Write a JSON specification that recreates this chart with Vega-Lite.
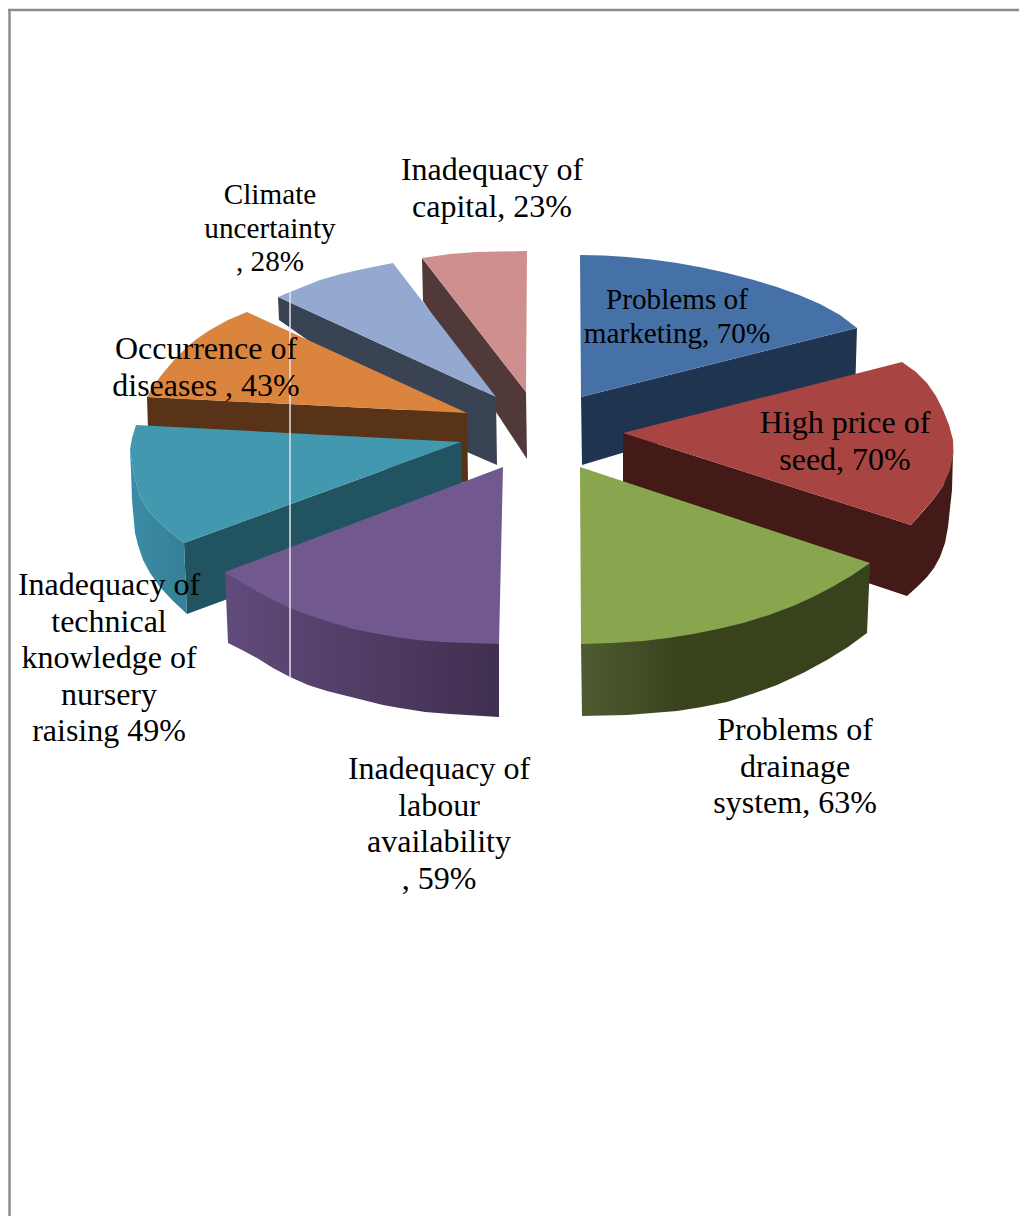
{
  "$schema": "https://vega.github.io/schema/vega-lite/v6.json",
  "autosize": {"type": "none"},
  "width": 1019,
  "height": 1216,
  "padding": 0,
  "background": "white",
  "config": {"view": {"stroke": null}},
  "resolve": {"scale": {"fill": "independent"}},
  "datasets": {
    "outlines": [
      {"part":"capital-wall","seq":1,"x":422,"y":258},{"part":"capital-wall","seq":2,"x":526,"y":392},{"part":"capital-wall","seq":3,"x":527,"y":459},{"part":"capital-wall","seq":4,"x":423,"y":301},
      {"part":"capital-top","seq":1,"x":422,"y":258},{"part":"capital-top","seq":2,"x":450,"y":254},{"part":"capital-top","seq":3,"x":477,"y":252},{"part":"capital-top","seq":4,"x":527,"y":251},{"part":"capital-top","seq":5,"x":526,"y":392},

      {"part":"climate-wall","seq":1,"x":278,"y":297},{"part":"climate-wall","seq":2,"x":496,"y":397},{"part":"climate-wall","seq":3,"x":497,"y":465},{"part":"climate-wall","seq":4,"x":467,"y":452},{"part":"climate-wall","seq":5,"x":279,"y":320},
      {"part":"climate-top","seq":1,"x":278,"y":297},{"part":"climate-top","seq":2,"x":290,"y":292},{"part":"climate-top","seq":3,"x":305,"y":286},{"part":"climate-top","seq":4,"x":320,"y":280},{"part":"climate-top","seq":5,"x":341,"y":274},{"part":"climate-top","seq":6,"x":363,"y":269},{"part":"climate-top","seq":7,"x":393,"y":263},{"part":"climate-top","seq":8,"x":496,"y":397},

      {"part":"diseases-wall","seq":1,"x":147,"y":397},{"part":"diseases-wall","seq":2,"x":467,"y":413},{"part":"diseases-wall","seq":3,"x":468,"y":482},{"part":"diseases-wall","seq":4,"x":461,"y":482},{"part":"diseases-wall","seq":5,"x":148,"y":430},
      {"part":"diseases-top","seq":1,"x":147,"y":397},{"part":"diseases-top","seq":2,"x":154,"y":385},{"part":"diseases-top","seq":3,"x":163,"y":373},{"part":"diseases-top","seq":4,"x":175,"y":359},{"part":"diseases-top","seq":5,"x":187,"y":347},{"part":"diseases-top","seq":6,"x":198,"y":338},{"part":"diseases-top","seq":7,"x":210,"y":330},{"part":"diseases-top","seq":8,"x":228,"y":320},{"part":"diseases-top","seq":9,"x":247,"y":312},{"part":"diseases-top","seq":10,"x":467,"y":413},

      {"part":"technical-wall","seq":1,"x":461,"y":442},{"part":"technical-wall","seq":2,"x":184,"y":543},{"part":"technical-wall","seq":3,"x":187,"y":614},{"part":"technical-wall","seq":4,"x":225,"y":600},{"part":"technical-wall","seq":5,"x":462,"y":500},
      {"part":"technical-rim","seq":1,"x":130,"y":450},{"part":"technical-rim","seq":2,"x":134,"y":475},{"part":"technical-rim","seq":3,"x":140,"y":497},{"part":"technical-rim","seq":4,"x":148,"y":510},{"part":"technical-rim","seq":5,"x":157,"y":520},{"part":"technical-rim","seq":6,"x":170,"y":532},{"part":"technical-rim","seq":7,"x":184,"y":543},{"part":"technical-rim","seq":8,"x":187,"y":614},{"part":"technical-rim","seq":9,"x":172,"y":600},{"part":"technical-rim","seq":10,"x":160,"y":587},{"part":"technical-rim","seq":11,"x":150,"y":573},{"part":"technical-rim","seq":12,"x":143,"y":560},{"part":"technical-rim","seq":13,"x":138,"y":545},{"part":"technical-rim","seq":14,"x":135,"y":533},{"part":"technical-rim","seq":15,"x":132,"y":500},{"part":"technical-rim","seq":16,"x":131,"y":470},
      {"part":"technical-top","seq":1,"x":136,"y":425},{"part":"technical-top","seq":2,"x":461,"y":442},{"part":"technical-top","seq":3,"x":184,"y":543},{"part":"technical-top","seq":4,"x":170,"y":532},{"part":"technical-top","seq":5,"x":157,"y":520},{"part":"technical-top","seq":6,"x":148,"y":510},{"part":"technical-top","seq":7,"x":140,"y":497},{"part":"technical-top","seq":8,"x":134,"y":475},{"part":"technical-top","seq":9,"x":130,"y":450},{"part":"technical-top","seq":10,"x":132,"y":438},

      {"part":"labour-wall","seq":1,"x":225,"y":572},{"part":"labour-wall","seq":2,"x":228,"y":643},{"part":"labour-wall","seq":3,"x":242,"y":650},{"part":"labour-wall","seq":4,"x":257,"y":658},{"part":"labour-wall","seq":5,"x":273,"y":668},{"part":"labour-wall","seq":6,"x":290,"y":677},{"part":"labour-wall","seq":7,"x":308,"y":685},{"part":"labour-wall","seq":8,"x":327,"y":691},{"part":"labour-wall","seq":9,"x":347,"y":696},{"part":"labour-wall","seq":10,"x":367,"y":701},{"part":"labour-wall","seq":11,"x":383,"y":705},{"part":"labour-wall","seq":12,"x":400,"y":708},{"part":"labour-wall","seq":13,"x":425,"y":712},{"part":"labour-wall","seq":14,"x":450,"y":714},{"part":"labour-wall","seq":15,"x":499,"y":717},{"part":"labour-wall","seq":16,"x":499,"y":644},
      {"part":"labour-top","seq":1,"x":503,"y":467},{"part":"labour-top","seq":2,"x":225,"y":572},{"part":"labour-top","seq":3,"x":242,"y":583},{"part":"labour-top","seq":4,"x":260,"y":593},{"part":"labour-top","seq":5,"x":275,"y":601},{"part":"labour-top","seq":6,"x":290,"y":608},{"part":"labour-top","seq":7,"x":311,"y":616},{"part":"labour-top","seq":8,"x":333,"y":623},{"part":"labour-top","seq":9,"x":353,"y":629},{"part":"labour-top","seq":10,"x":373,"y":633},{"part":"labour-top","seq":11,"x":395,"y":637},{"part":"labour-top","seq":12,"x":417,"y":640},{"part":"labour-top","seq":13,"x":442,"y":642},{"part":"labour-top","seq":14,"x":467,"y":643},{"part":"labour-top","seq":15,"x":499,"y":644},

      {"part":"marketing-wall","seq":1,"x":581,"y":397},{"part":"marketing-wall","seq":2,"x":857,"y":328},{"part":"marketing-wall","seq":3,"x":855,"y":395},{"part":"marketing-wall","seq":4,"x":622,"y":453},{"part":"marketing-wall","seq":5,"x":582,"y":465},
      {"part":"marketing-top","seq":1,"x":580,"y":255},{"part":"marketing-top","seq":2,"x":604,"y":255.5},{"part":"marketing-top","seq":3,"x":627,"y":257},{"part":"marketing-top","seq":4,"x":652,"y":259.5},{"part":"marketing-top","seq":5,"x":677,"y":263},{"part":"marketing-top","seq":6,"x":702,"y":267.5},{"part":"marketing-top","seq":7,"x":727,"y":273},{"part":"marketing-top","seq":8,"x":752,"y":279.5},{"part":"marketing-top","seq":9,"x":777,"y":287},{"part":"marketing-top","seq":10,"x":799,"y":295},{"part":"marketing-top","seq":11,"x":820,"y":304},{"part":"marketing-top","seq":12,"x":840,"y":315},{"part":"marketing-top","seq":13,"x":857,"y":328},{"part":"marketing-top","seq":14,"x":581,"y":397},

      {"part":"seed-wall","seq":1,"x":623,"y":433},{"part":"seed-wall","seq":2,"x":911,"y":525},{"part":"seed-wall","seq":3,"x":933,"y":500},{"part":"seed-wall","seq":4,"x":943,"y":486},{"part":"seed-wall","seq":5,"x":953,"y":453},{"part":"seed-wall","seq":6,"x":952,"y":490},{"part":"seed-wall","seq":7,"x":948,"y":527},{"part":"seed-wall","seq":8,"x":945,"y":543},{"part":"seed-wall","seq":9,"x":940,"y":557},{"part":"seed-wall","seq":10,"x":934,"y":568},{"part":"seed-wall","seq":11,"x":927,"y":577},{"part":"seed-wall","seq":12,"x":917,"y":587},{"part":"seed-wall","seq":13,"x":907,"y":596},{"part":"seed-wall","seq":14,"x":868,"y":583},{"part":"seed-wall","seq":15,"x":623,"y":495},
      {"part":"seed-top","seq":1,"x":623,"y":433},{"part":"seed-top","seq":2,"x":902,"y":362},{"part":"seed-top","seq":3,"x":916,"y":372},{"part":"seed-top","seq":4,"x":927,"y":383},{"part":"seed-top","seq":5,"x":936,"y":396},{"part":"seed-top","seq":6,"x":943,"y":410},{"part":"seed-top","seq":7,"x":949,"y":425},{"part":"seed-top","seq":8,"x":953,"y":440},{"part":"seed-top","seq":9,"x":953.5,"y":453},{"part":"seed-top","seq":10,"x":950,"y":470},{"part":"seed-top","seq":11,"x":943,"y":486},{"part":"seed-top","seq":12,"x":933,"y":500},{"part":"seed-top","seq":13,"x":922,"y":512},{"part":"seed-top","seq":14,"x":911,"y":525},

      {"part":"drainage-wall","seq":1,"x":870,"y":563},{"part":"drainage-wall","seq":2,"x":867,"y":633},{"part":"drainage-wall","seq":3,"x":848,"y":647},{"part":"drainage-wall","seq":4,"x":827,"y":660},{"part":"drainage-wall","seq":5,"x":803,"y":673},{"part":"drainage-wall","seq":6,"x":777,"y":685},{"part":"drainage-wall","seq":7,"x":752,"y":694},{"part":"drainage-wall","seq":8,"x":727,"y":702},{"part":"drainage-wall","seq":9,"x":702,"y":707},{"part":"drainage-wall","seq":10,"x":677,"y":711},{"part":"drainage-wall","seq":11,"x":652,"y":713},{"part":"drainage-wall","seq":12,"x":627,"y":715},{"part":"drainage-wall","seq":13,"x":582,"y":716},{"part":"drainage-wall","seq":14,"x":581,"y":644},
      {"part":"drainage-top","seq":1,"x":580,"y":467},{"part":"drainage-top","seq":2,"x":870,"y":563},{"part":"drainage-top","seq":3,"x":851,"y":576},{"part":"drainage-top","seq":4,"x":832,"y":587},{"part":"drainage-top","seq":5,"x":813,"y":597},{"part":"drainage-top","seq":6,"x":793,"y":606},{"part":"drainage-top","seq":7,"x":769,"y":615},{"part":"drainage-top","seq":8,"x":743,"y":623},{"part":"drainage-top","seq":9,"x":718,"y":629},{"part":"drainage-top","seq":10,"x":693,"y":634},{"part":"drainage-top","seq":11,"x":668,"y":638},{"part":"drainage-top","seq":12,"x":643,"y":641},{"part":"drainage-top","seq":13,"x":612,"y":643},{"part":"drainage-top","seq":14,"x":581,"y":644}
    ],
    "labels": [
      {"label":"Problems of\nmarketing, 70%","value":70,"group":"small","x":677,"y":300},
      {"label":"High price of\nseed, 70%","value":70,"group":"large","x":845,"y":423},
      {"label":"Problems of\ndrainage\nsystem, 63%","value":63,"group":"large","x":795,"y":730},
      {"label":"Inadequacy of\nlabour\navailability\n, 59%","value":59,"group":"large","x":439,"y":769},
      {"label":"Inadequacy of\ntechnical\nknowledge of\nnursery\nraising 49%","value":49,"group":"large","x":109,"y":585},
      {"label":"Occurrence of\ndiseases , 43%","value":43,"group":"large","x":206,"y":349},
      {"label":"Climate\nuncertainty\n, 28%","value":28,"group":"small","x":270,"y":195},
      {"label":"Inadequacy of\ncapital, 23%","value":23,"group":"large","x":492,"y":170}
    ],
    "frame": [
      {"edge":"top","seq":1,"x":8,"y":10},{"edge":"top","seq":2,"x":1019,"y":10},
      {"edge":"left","seq":1,"x":9.5,"y":10},{"edge":"left","seq":2,"x":9.5,"y":1216}
    ],
    "seam": [
      {"seq":1,"x":290,"y":292},{"seq":2,"x":290,"y":678}
    ]
  },
  "encoding": {
    "x": {"field":"x","type":"quantitative","axis":null,"scale":{"domain":[0,1019],"nice":false,"zero":false}},
    "y": {"field":"y","type":"quantitative","axis":null,"scale":{"domain":[1216,0],"nice":false,"zero":false}}
  },
  "layer": [
    {
      "data": {"name":"outlines"},
      "transform": [{"filter":"indexof(['labour-top','drainage-top','labour-wall','drainage-wall','technical-rim'], datum.part) < 0"}],
      "mark": {"type":"line","strokeWidth":0},
      "encoding": {
        "order": {"field":"seq","type":"quantitative"},
        "detail": {"field":"part","type":"nominal"},
        "fill": {"field":"part","type":"nominal","legend":null,"scale":{
          "domain":["capital-wall","capital-top","climate-wall","climate-top","diseases-wall","diseases-top","technical-wall","technical-top","marketing-wall","marketing-top","seed-wall","seed-top"],
          "range":["#523939","#CE8F8E","#394353","#93A9CF","#583318","#DB843D","#225360","#4198AF","#1F344F","#4571A6","#441A18","#A84442"]}}
      }
    },
    {
      "data": {"name":"outlines"},
      "transform": [{"filter":"datum.part === 'technical-rim'"}],
      "mark": {"type":"line","strokeWidth":0,"fill":{"gradient":"linear","x1":0,"x2":1,"y1":0,"y2":0,"stops":[{"offset":0,"color":"#3C8CA6"},{"offset":1,"color":"#358095"}]}},
      "encoding": {"order": {"field":"seq","type":"quantitative"}}
    },
    {
      "data": {"name":"outlines"},
      "transform": [{"filter":"datum.part === 'labour-wall'"}],
      "mark": {"type":"line","strokeWidth":0,"fill":{"gradient":"linear","x1":0,"x2":1,"y1":0,"y2":0,"stops":[{"offset":0,"color":"#614B7B"},{"offset":1,"color":"#3F2F50"}]}},
      "encoding": {"order": {"field":"seq","type":"quantitative"}}
    },
    {
      "data": {"name":"outlines"},
      "transform": [{"filter":"datum.part === 'drainage-wall'"}],
      "mark": {"type":"line","strokeWidth":0,"fill":{"gradient":"linear","x1":0,"x2":1,"y1":0,"y2":0,"stops":[{"offset":0,"color":"#4F5B30"},{"offset":0.35,"color":"#38431E"},{"offset":1,"color":"#38431E"}]}},
      "encoding": {"order": {"field":"seq","type":"quantitative"}}
    },
    {
      "data": {"name":"outlines"},
      "transform": [{"filter":"datum.part === 'labour-top' || datum.part === 'drainage-top'"}],
      "mark": {"type":"line","strokeWidth":0},
      "encoding": {
        "order": {"field":"seq","type":"quantitative"},
        "detail": {"field":"part","type":"nominal"},
        "fill": {"field":"part","type":"nominal","legend":null,"scale":{"domain":["labour-top","drainage-top"],"range":["#71588F","#89A54E"]}}
      }
    },
    {
      "data": {"name":"seam"},
      "mark": {"type":"line","stroke":"#E4E4E8","strokeWidth":1.5,"fill":null},
      "encoding": {"order": {"field":"seq","type":"quantitative"}}
    },
    {
      "data": {"name":"frame"},
      "mark": {"type":"line","stroke":"#8C8C8C","strokeWidth":2.5,"fill":null},
      "encoding": {
        "order": {"field":"seq","type":"quantitative"},
        "detail": {"field":"edge","type":"nominal"}
      }
    },
    {
      "data": {"name":"labels"},
      "transform": [{"filter":"datum.group === 'large'"}],
      "mark": {"type":"text","font":"Liberation Serif","fontSize":32,"lineHeight":36.6,"lineBreak":"\n","align":"center","baseline":"middle","color":"#000000"},
      "encoding": {"text": {"field":"label","type":"nominal"}}
    },
    {
      "data": {"name":"labels"},
      "transform": [{"filter":"datum.group === 'small'"}],
      "mark": {"type":"text","font":"Liberation Serif","fontSize":29.2,"lineHeight":33.5,"lineBreak":"\n","align":"center","baseline":"middle","color":"#000000"},
      "encoding": {"text": {"field":"label","type":"nominal"}}
    }
  ]
}
